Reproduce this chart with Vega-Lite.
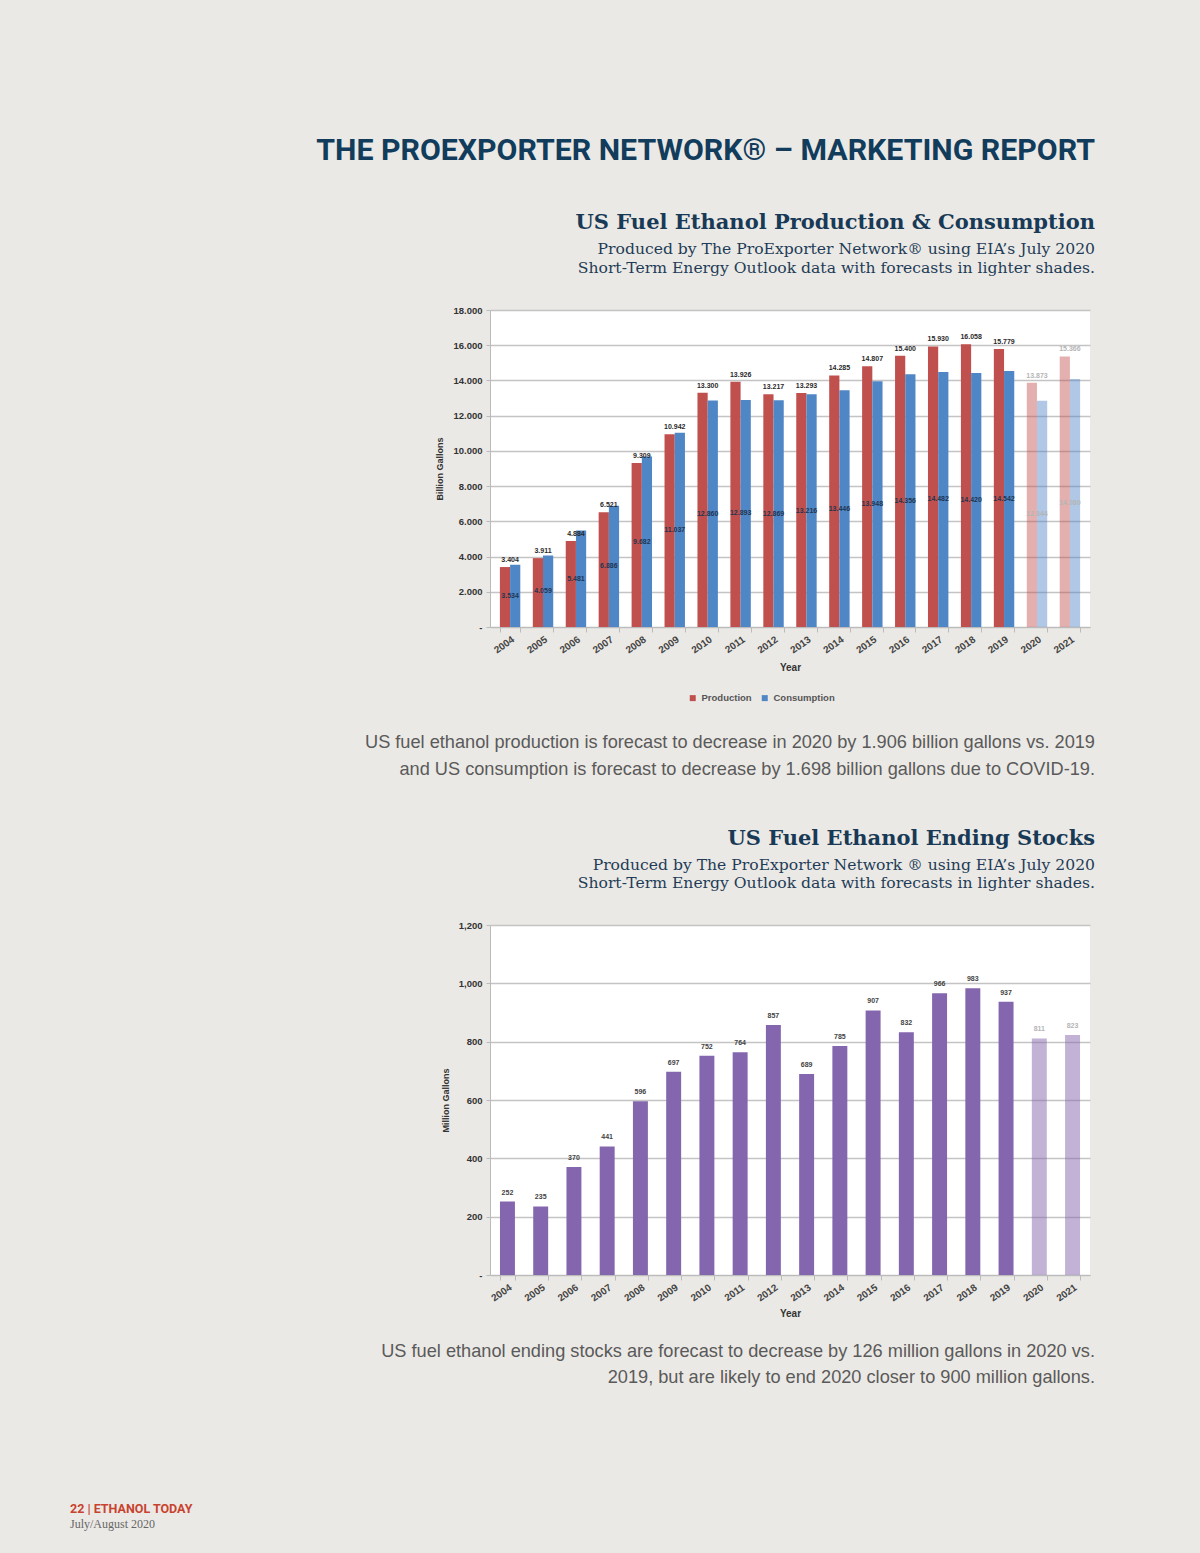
{
  "$schema": "https://vega.github.io/schema/vega-lite/v6.json",
  "background": "#ebe9e5",
  "padding": {"left": 70, "top": 135, "right": 105, "bottom": 0},
  "spacing": 22,
  "resolve": {
    "scale": {"color": "independent", "opacity": "independent", "x": "independent", "y": "independent"},
    "legend": {"color": "independent", "opacity": "independent"}
  },
  "config": {
    "view": {"stroke": null},
    "font": "Liberation Sans",
    "axis": {"labelFont": "Liberation Sans", "titleFont": "Liberation Sans"}
  },
  "datasets": {
    "fuel": [
      {"year": "2004", "series": "Production", "status": "Actual", "value": 3.404},
      {"year": "2004", "series": "Consumption", "status": "Actual", "value": 3.534},
      {"year": "2005", "series": "Production", "status": "Actual", "value": 3.911},
      {"year": "2005", "series": "Consumption", "status": "Actual", "value": 4.059},
      {"year": "2006", "series": "Production", "status": "Actual", "value": 4.884},
      {"year": "2006", "series": "Consumption", "status": "Actual", "value": 5.481},
      {"year": "2007", "series": "Production", "status": "Actual", "value": 6.521},
      {"year": "2007", "series": "Consumption", "status": "Actual", "value": 6.886},
      {"year": "2008", "series": "Production", "status": "Actual", "value": 9.309},
      {"year": "2008", "series": "Consumption", "status": "Actual", "value": 9.682},
      {"year": "2009", "series": "Production", "status": "Actual", "value": 10.942},
      {"year": "2009", "series": "Consumption", "status": "Actual", "value": 11.037},
      {"year": "2010", "series": "Production", "status": "Actual", "value": 13.300},
      {"year": "2010", "series": "Consumption", "status": "Actual", "value": 12.860},
      {"year": "2011", "series": "Production", "status": "Actual", "value": 13.926},
      {"year": "2011", "series": "Consumption", "status": "Actual", "value": 12.893},
      {"year": "2012", "series": "Production", "status": "Actual", "value": 13.217},
      {"year": "2012", "series": "Consumption", "status": "Actual", "value": 12.869},
      {"year": "2013", "series": "Production", "status": "Actual", "value": 13.293},
      {"year": "2013", "series": "Consumption", "status": "Actual", "value": 13.216},
      {"year": "2014", "series": "Production", "status": "Actual", "value": 14.285},
      {"year": "2014", "series": "Consumption", "status": "Actual", "value": 13.446},
      {"year": "2015", "series": "Production", "status": "Actual", "value": 14.807},
      {"year": "2015", "series": "Consumption", "status": "Actual", "value": 13.948},
      {"year": "2016", "series": "Production", "status": "Actual", "value": 15.400},
      {"year": "2016", "series": "Consumption", "status": "Actual", "value": 14.356},
      {"year": "2017", "series": "Production", "status": "Actual", "value": 15.930},
      {"year": "2017", "series": "Consumption", "status": "Actual", "value": 14.482},
      {"year": "2018", "series": "Production", "status": "Actual", "value": 16.058},
      {"year": "2018", "series": "Consumption", "status": "Actual", "value": 14.420},
      {"year": "2019", "series": "Production", "status": "Actual", "value": 15.779},
      {"year": "2019", "series": "Consumption", "status": "Actual", "value": 14.542},
      {"year": "2020", "series": "Production", "status": "Forecast", "value": 13.873},
      {"year": "2020", "series": "Consumption", "status": "Forecast", "value": 12.844},
      {"year": "2021", "series": "Production", "status": "Forecast", "value": 15.366},
      {"year": "2021", "series": "Consumption", "status": "Forecast", "value": 14.080}
    ],
    "stocks": [
      {"year": "2004", "status": "Actual", "stocks": 252},
      {"year": "2005", "status": "Actual", "stocks": 235},
      {"year": "2006", "status": "Actual", "stocks": 370},
      {"year": "2007", "status": "Actual", "stocks": 441},
      {"year": "2008", "status": "Actual", "stocks": 596},
      {"year": "2009", "status": "Actual", "stocks": 697},
      {"year": "2010", "status": "Actual", "stocks": 752},
      {"year": "2011", "status": "Actual", "stocks": 764},
      {"year": "2012", "status": "Actual", "stocks": 857},
      {"year": "2013", "status": "Actual", "stocks": 689},
      {"year": "2014", "status": "Actual", "stocks": 785},
      {"year": "2015", "status": "Actual", "stocks": 907},
      {"year": "2016", "status": "Actual", "stocks": 832},
      {"year": "2017", "status": "Actual", "stocks": 966},
      {"year": "2018", "status": "Actual", "stocks": 983},
      {"year": "2019", "status": "Actual", "stocks": 937},
      {"year": "2020", "status": "Forecast", "stocks": 811},
      {"year": "2021", "status": "Forecast", "stocks": 823}
    ]
  },
  "vconcat": [
    {
      "width": 605,
      "height": 24,
      "data": {"values": [{}]},
      "mark": {"type": "text"},
      "encoding": {"text": {"value": ""}},
      "title": {
        "text": "THE PROEXPORTER NETWORK® – MARKETING REPORT",
        "anchor": "end",
        "frame": "group",
        "offset": 0,
        "font": "Roboto",
        "fontSize": 30.3,
        "fontWeight": "bold",
        "color": "#123c5c"
      }
    },
    {
      "width": 600,
      "height": 317,
      "view": {"fill": "white", "stroke": null},
      "data": {"name": "fuel"},
      "title": {
        "text": "US Fuel Ethanol Production & Consumption",
        "subtitle": ["Produced by The ProExporter Network® using EIA’s July 2020", "Short-Term Energy Outlook data with forecasts in lighter shades."],
        "anchor": "end",
        "frame": "group",
        "dx": 5,
        "offset": 28,
        "font": "DejaVu Serif",
        "fontSize": 21,
        "fontWeight": "bold",
        "color": "#183a56",
        "subtitleFont": "DejaVu Serif",
        "subtitleFontSize": 15.6,
        "subtitleColor": "#1e3c57",
        "subtitlePadding": 9,
        "subtitleLineHeight": 19
      },
      "resolve": {"scale": {"y": "independent"}},
      "layer": [
        {
          "mark": {"type": "bar"},
          "encoding": {
            "x": {
              "field": "year", "type": "ordinal",
              "scale": {"paddingInner": 0.38, "paddingOuter": 0.3},
              "axis": {
                "title": "Year", "labelAngle": -35, "labelFontSize": 10, "labelFontWeight": "bold",
                "labelColor": "#444", "titleFontSize": 10, "titleFontWeight": "bold", "titleColor": "#333",
                "domainColor": "#bbb", "tickColor": "#bbb", "tickBand": "extent", "titlePadding": 8
              }
            },
            "xOffset": {"field": "series", "sort": ["Production", "Consumption"]},
            "y": {
              "field": "value", "type": "quantitative",
              "scale": {"domain": [0, 18], "nice": false},
              "axis": {
                "title": "Billion Gallons", "values": [0, 2, 4, 6, 8, 10, 12, 14, 16, 18],
                "labelExpr": "datum.value == 0 ? '-' : format(datum.value, '.3f')",
                "labelFontSize": 9.5, "labelFontWeight": "bold", "labelColor": "#333",
                "titleFontSize": 9, "titleFontWeight": "bold", "titleColor": "#333",
                "gridColor": "#c4c4c4", "gridWidth": 1.5, "domainColor": "#bbb",
                "tickColor": "#bbb", "tickSize": 4, "labelPadding": 4, "titlePadding": 8
              }
            },
            "color": {
              "field": "series", "type": "nominal",
              "scale": {"domain": ["Production", "Consumption"], "range": ["#c0504d", "#4f86c6"]},
              "legend": {
                "title": null, "orient": "none", "legendX": 191, "legendY": 376, "direction": "horizontal",
                "symbolType": "square", "symbolSize": 36, "columnPadding": 8,
                "labelFontSize": 9.5, "labelFontWeight": "bold", "labelColor": "#555", "padding": 7
              }
            },
            "opacity": {
              "field": "status", "type": "nominal",
              "scale": {"domain": ["Actual", "Forecast"], "range": [1, 0.45]},
              "legend": null
            }
          }
        },
        {
          "transform": [{"filter": "datum.series == 'Production'"}],
          "mark": {"type": "text", "dy": -7, "fontSize": 7, "fontWeight": "bold"},
          "encoding": {
            "x": {"field": "year", "type": "ordinal"},
            "y": {"field": "value", "type": "quantitative", "scale": {"domain": [0, 18], "nice": false}, "axis": null},
            "text": {"field": "value", "type": "quantitative", "format": ".3f"},
            "color": {"condition": {"test": "datum.status == 'Forecast'", "value": "#b5b5b5"}, "value": "#2a2a2a"}
          }
        },
        {
          "transform": [{"filter": "datum.series == 'Consumption'"}],
          "mark": {"type": "text", "fontSize": 7, "fontWeight": "bold"},
          "encoding": {
            "x": {"field": "year", "type": "ordinal"},
            "y": {"field": "value", "type": "quantitative", "scale": {"domain": [0, 36], "nice": false}, "axis": null},
            "text": {"field": "value", "type": "quantitative", "format": ".3f"},
            "color": {"condition": {"test": "datum.status == 'Forecast'", "value": "#b5b5b5"}, "value": "#1f3550"}
          }
        }
      ]
    },
    {
      "width": 605,
      "height": 27,
      "data": {"values": [{}]},
      "mark": {"type": "text"},
      "encoding": {"text": {"value": ""}},
      "title": {
        "text": ["US fuel ethanol production is forecast to decrease in 2020 by 1.906 billion gallons vs. 2019", "and US consumption is forecast to decrease by 1.698 billion gallons due to COVID-19."],
        "anchor": "end",
        "frame": "group",
        "offset": 0,
        "font": "Liberation Sans",
        "fontSize": 18.2,
        "fontWeight": "normal",
        "lineHeight": 27,
        "color": "#5a5a5a"
      }
    },
    {
      "width": 600,
      "height": 350,
      "view": {"fill": "white", "stroke": null},
      "data": {"name": "stocks"},
      "title": {
        "text": "US Fuel Ethanol Ending Stocks",
        "subtitle": ["Produced by The ProExporter Network ® using EIA’s July 2020", "Short-Term Energy Outlook data with forecasts in lighter shades."],
        "anchor": "end",
        "frame": "group",
        "dx": 5,
        "offset": 28,
        "font": "DejaVu Serif",
        "fontSize": 21,
        "fontWeight": "bold",
        "color": "#183a56",
        "subtitleFont": "DejaVu Serif",
        "subtitleFontSize": 15.6,
        "subtitleColor": "#1e3c57",
        "subtitlePadding": 9,
        "subtitleLineHeight": 18
      },
      "encoding": {
        "x": {
          "field": "year", "type": "ordinal",
          "scale": {"paddingInner": 0.55, "paddingOuter": 0.3},
          "axis": {
            "title": "Year", "labelAngle": -35, "labelFontSize": 10, "labelFontWeight": "bold",
            "labelColor": "#444", "titleFontSize": 10, "titleFontWeight": "bold", "titleColor": "#333",
            "domainColor": "#bbb", "tickColor": "#bbb", "tickBand": "extent", "titlePadding": 6
          }
        },
        "y": {
          "field": "stocks", "type": "quantitative",
          "scale": {"domain": [0, 1200], "nice": false},
          "axis": {
            "title": "Million Gallons", "values": [0, 200, 400, 600, 800, 1000, 1200],
            "labelExpr": "datum.value == 0 ? '-' : format(datum.value, ',')",
            "labelFontSize": 9.5, "labelFontWeight": "bold", "labelColor": "#333",
            "titleFontSize": 9, "titleFontWeight": "bold", "titleColor": "#333",
            "gridColor": "#c4c4c4", "gridWidth": 1.5, "domainColor": "#bbb",
            "tickColor": "#bbb", "tickSize": 4, "labelPadding": 4, "titlePadding": 8
          }
        }
      },
      "layer": [
        {
          "mark": {"type": "bar", "color": "#8466ae"},
          "encoding": {
            "opacity": {
              "field": "status", "type": "nominal",
              "scale": {"domain": ["Actual", "Forecast"], "range": [1, 0.5]},
              "legend": null
            }
          }
        },
        {
          "mark": {"type": "text", "dy": -9, "fontSize": 7, "fontWeight": "bold"},
          "encoding": {
            "text": {"field": "stocks", "type": "quantitative", "format": "d"},
            "color": {"condition": {"test": "datum.status == 'Forecast'", "value": "#b5b5b5"}, "value": "#444"}
          }
        }
      ]
    },
    {
      "width": 605,
      "height": 93,
      "data": {"values": [{}]},
      "mark": {"type": "text"},
      "encoding": {"text": {"value": ""}},
      "title": {
        "text": ["US fuel ethanol ending stocks are forecast to decrease by 126 million gallons in 2020 vs.", "2019, but are likely to end 2020 closer to 900 million gallons."],
        "anchor": "end",
        "frame": "group",
        "offset": 0,
        "font": "Liberation Sans",
        "fontSize": 18.2,
        "fontWeight": "normal",
        "lineHeight": 26,
        "color": "#5a5a5a"
      }
    },
    {
      "width": 605,
      "height": 23,
      "data": {"values": [{}]},
      "mark": {"type": "text"},
      "encoding": {"text": {"value": ""}},
      "title": {
        "text": "22 | ETHANOL TODAY",
        "subtitle": "July/August 2020",
        "anchor": "start",
        "frame": "group",
        "dx": -420,
        "offset": 0,
        "font": "Roboto",
        "fontSize": 12.5,
        "fontWeight": "bold",
        "color": "#c8432f",
        "subtitleFont": "Liberation Serif",
        "subtitleFontSize": 12,
        "subtitleColor": "#666",
        "subtitlePadding": 4
      }
    }
  ]
}
